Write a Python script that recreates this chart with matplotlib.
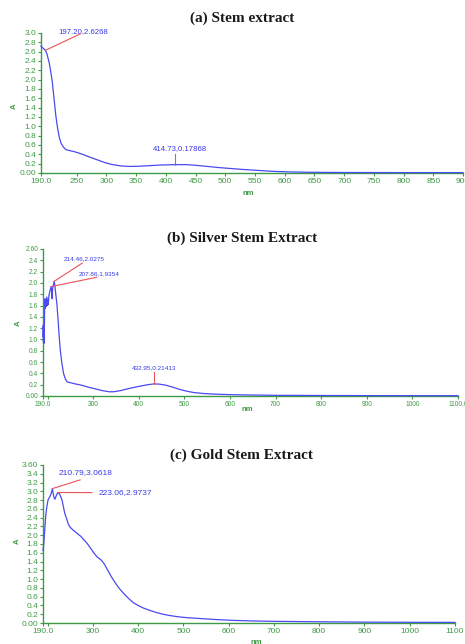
import matplotlib
matplotlib.use("Agg")
import matplotlib.pyplot as plt

# ---------------- data ----------------
titles = ["(a) Stem extract", "(b) Silver Stem Extract", "(c) Gold Stem Extract"]

a_x = [190, 193, 197.2, 200, 204, 207, 209, 212, 215, 218, 221, 224, 228, 232, 238, 245, 253, 262, 272,
       285, 298, 310, 325, 340, 355, 370, 390, 414.73, 435, 450, 470, 490, 510, 530, 555, 580, 610, 640,
       700, 800, 900]
a_y = [2.72, 2.68, 2.63, 2.55, 2.35, 2.12, 1.95, 1.58, 1.22, 0.95, 0.75, 0.63, 0.55, 0.50, 0.48, 0.46,
       0.43, 0.39, 0.34, 0.28, 0.22, 0.18, 0.15, 0.14, 0.145, 0.155, 0.17, 0.179, 0.178, 0.165, 0.14,
       0.115, 0.095, 0.075, 0.055, 0.035, 0.022, 0.015, 0.01, 0.008, 0.008]

b_x = [190, 190.5, 191, 191.5, 192, 192.8, 193.5, 194.2, 195, 196, 197, 198, 199, 200, 201.5, 203, 205,
       207.86, 209, 210, 211, 212.5, 214.46, 216, 218, 220.5, 223, 225.5, 228, 231, 235, 239, 243, 250,
       260, 275, 290, 305, 320, 335, 345, 360, 380, 400, 420, 432.95, 445, 460, 475, 490, 505, 520, 540,
       565, 600, 650, 700, 800, 900, 1000, 1100]
b_y = [1.05, 1.25, 0.95, 1.2, 0.93, 1.1, 1.55, 1.72, 1.55, 1.68, 1.58, 1.75, 1.6, 1.7, 1.62, 1.78, 1.85,
       1.935, 1.85, 1.72, 1.9, 1.95, 2.0275, 1.95, 1.8, 1.62, 1.35, 1.05, 0.8, 0.6, 0.4, 0.3, 0.25, 0.235,
       0.215, 0.19, 0.155, 0.125, 0.095, 0.075, 0.075, 0.095, 0.135, 0.17, 0.2, 0.214, 0.21, 0.19, 0.155,
       0.115, 0.085, 0.062, 0.045, 0.033, 0.024, 0.017, 0.012, 0.009, 0.007, 0.006, 0.006]

c_x = [190, 192, 194, 196, 198.5, 201, 204, 206, 208, 210.79, 212.5, 214.5, 216.5, 218.5, 221, 223.06,
       226, 229, 232, 235, 238, 242, 246, 250, 256, 262, 268, 274, 280, 287, 294, 302, 310, 318, 325,
       332, 340, 348, 356, 364, 372, 380, 390, 400, 412, 425, 440, 455, 470, 490, 510, 540, 570, 610,
       660, 700, 800, 900, 1000, 1100]
c_y = [1.65, 1.85, 2.15, 2.45, 2.65, 2.8, 2.86, 2.9, 2.95, 3.06, 2.95, 2.85, 2.82, 2.88, 2.94, 2.97,
       2.95, 2.88, 2.8, 2.65, 2.5, 2.38, 2.25, 2.18, 2.12, 2.07, 2.02, 1.97, 1.9, 1.82, 1.72, 1.6, 1.5,
       1.44, 1.35, 1.22, 1.07, 0.94, 0.82, 0.72, 0.63, 0.55, 0.46, 0.40, 0.34, 0.29, 0.24, 0.2, 0.17,
       0.14, 0.12, 0.1, 0.08, 0.06, 0.045, 0.038, 0.028, 0.02, 0.016, 0.014]

a_xticks = [190, 250, 300, 350, 400, 450, 500, 550, 600, 650, 700, 750, 800, 850, 900]
a_xlabels = ["190.0", "250", "300", "350", "400", "450", "500", "550", "600", "650", "700", "750",
             "800", "850", "900"]
a_yticks = [0.0, 0.2, 0.4, 0.6, 0.8, 1.0, 1.2, 1.4, 1.6, 1.8, 2.0, 2.2, 2.4, 2.6, 2.8, 3.0]
a_ylabels = ["0.00", "0.2", "0.4", "0.6", "0.8", "1.0", "1.2", "1.4", "1.6", "1.8", "2.0", "2.2",
             "2.4", "2.6", "2.8", "3.0"]

b_xticks = [190, 200, 300, 400, 500, 600, 700, 800, 900, 1000, 1100]
b_xlabels = ["190.0", "", "300", "400", "500", "600", "700", "800", "900", "1000", "1100.0"]
b_yticks = [0.0, 0.2, 0.4, 0.6, 0.8, 1.0, 1.2, 1.4, 1.6, 1.8, 2.0, 2.2, 2.4, 2.6]
b_ylabels = ["0.00", "0.2", "0.4", "0.6", "0.8", "1.0", "1.2", "1.4", "1.6", "1.8", "2.0", "2.2",
             "2.4", "2.60"]

c_xticks = [190, 200, 300, 400, 500, 600, 700, 800, 900, 1000, 1100]
c_xlabels = ["190.0", "", "300", "400", "500", "600", "700", "800", "900", "1000", "1100"]
c_yticks = [0.0, 0.2, 0.4, 0.6, 0.8, 1.0, 1.2, 1.4, 1.6, 1.8, 2.0, 2.2, 2.4, 2.6, 2.8, 3.0, 3.2,
            3.4, 3.6]
c_ylabels = ["0.00", "0.2", "0.4", "0.6", "0.8", "1.0", "1.2", "1.4", "1.6", "1.8", "2.0", "2.2",
             "2.4", "2.6", "2.8", "3.0", "3.2", "3.4", "3.60"]

# peak annotations: (peak x, peak y, line end x, line end y, text x, text y, label)
a_notes = [(197.2, 2.6268, 256, 2.98, 220, 3.04, "197.20,2.6268"),
           (414.73, 0.179, 414.73, 0.40, 424, 0.44, "414.73,0.17868")]
b_notes = [(214.46, 2.0275, 276, 2.35, 236, 2.42, "214.46,2.0275"),
           (207.86, 1.9354, 308, 2.10, 269, 2.16, "207.86,1.9354"),
           (432.95, 0.214, 432.95, 0.42, 433, 0.46, "432.95,0.21413")]
c_notes = [(210.79, 3.0618, 272, 3.26, 225, 3.42, "210.79,3.0618"),
           (223.06, 2.9737, 298, 2.97, 313, 2.98, "223.06,2.9737")]

# ---------------- style ----------------
GREEN = "#3f9a45"
BLUE = "#4a4af0"
RED = "#e8545a"
TXTBLUE = "#3a3ae8"

fig = plt.figure(figsize=(4.65, 6.44), dpi=100)

panels = [
    dict(rect=[0.0882, 0.7314, 0.9075, 0.2174], x=a_x, y=a_y, xlim=(190, 900), ylim=(0, 3.0),
         xt=a_xticks, xl=a_xlabels, yt=a_yticks, yl=a_ylabels, notes=a_notes, fs=6.0, nfs=5.6,
         title_y=0.972, ylab=(0.030, 0.835), xlab=(0.535, 0.700)),
    dict(rect=[0.0925, 0.3851, 0.8925, 0.2283], x=b_x, y=b_y, xlim=(190, 1100), ylim=(0, 2.6),
         xt=b_xticks, xl=b_xlabels, yt=b_yticks, yl=b_ylabels, notes=b_notes, fs=4.8, nfs=4.6,
         title_y=0.630, ylab=(0.039, 0.498), xlab=(0.532, 0.364)),
    dict(rect=[0.0925, 0.0326, 0.886, 0.2454], x=c_x, y=c_y, xlim=(190, 1100), ylim=(0, 3.6),
         xt=c_xticks, xl=c_xlabels, yt=c_yticks, yl=c_ylabels, notes=c_notes, fs=6.0, nfs=6.0,
         title_y=0.293, ylab=(0.037, 0.160), xlab=(0.552, 0.003)),
]

for title, p in zip(titles, panels):
    ax = fig.add_axes(p["rect"])
    ax.plot(p["x"], p["y"], color=BLUE, lw=0.9, clip_on=False, zorder=3)
    ax.set_xlim(*p["xlim"])
    ax.set_ylim(*p["ylim"])
    ax.set_xticks(p["xt"])
    ax.set_xticklabels(p["xl"])
    ax.set_yticks(p["yt"])
    ax.set_yticklabels(p["yl"])
    for s in ["top", "right"]:
        ax.spines[s].set_visible(False)
    for s in ["left", "bottom"]:
        ax.spines[s].set_color(GREEN)
        ax.spines[s].set_linewidth(1.0)
    ax.tick_params(axis="both", colors=GREEN, labelcolor=GREEN, labelsize=p["fs"],
                   length=2.5, width=0.8, pad=1)
    for lab in ax.get_xticklabels() + ax.get_yticklabels():
        lab.set_family("Liberation Sans")
    for (px, py, lx, ly, tx, ty, lbl) in p["notes"]:
        ax.plot([px, lx], [py, ly], color=RED, lw=0.8, clip_on=False, zorder=4)
        va = "bottom" if lx == px else "center"
        ha = "center" if lx == px else "left"
        ax.text(tx, ty, lbl, color=TXTBLUE, fontsize=p["nfs"], family="Liberation Sans",
                ha=ha, va=va, clip_on=False)
    fig.text(p["ylab"][0], p["ylab"][1], "A", color=GREEN, fontsize=5.5, fontweight="bold",
             rotation=90, ha="center", va="center", family="Liberation Sans")
    fig.text(p["xlab"][0], p["xlab"][1], "nm", color=GREEN, fontsize=5.5, fontweight="bold",
             ha="center", va="center", family="Liberation Sans")
    fig.text(0.52, p["title_y"], title, fontsize=11, fontweight="bold",
             family="Liberation Serif", ha="center", va="center", color="#1a1a1a")

fig.savefig("out.png", dpi=100, facecolor="white")
